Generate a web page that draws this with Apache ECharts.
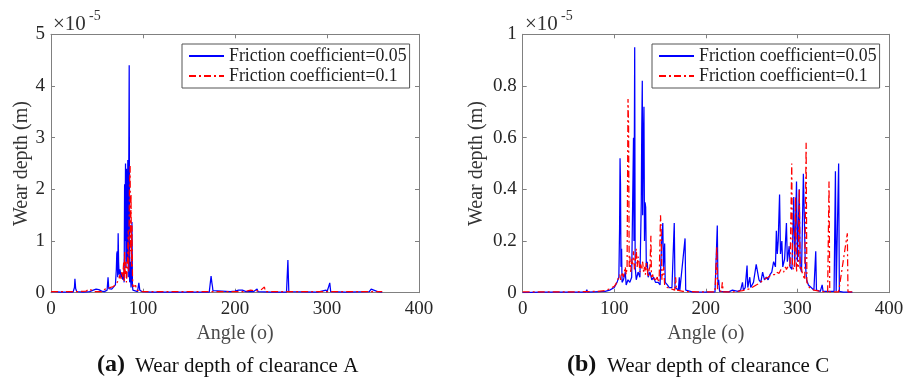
<!DOCTYPE html>
<html>
<head>
<meta charset="utf-8">
<script src="https://cdn.jsdelivr.net/npm/echarts@6/dist/echarts.min.js"></script>
<style>
html,body{margin:0;padding:0;background:#fff;}
#chart{width:918px;height:381px;}
</style>
</head>
<body>
<div id="chart"></div>
<script>
// Wear depth values are in units of 1e-5 m (axis shows ×10^-5)
const seriesNames = ['Friction coefficient=0.05', 'Friction coefficient=0.1'];
const xTicksLabel = [0, 100, 200, 300, 400];

// ---- Panel (a): clearance A ----
const angleA05 = [0,5,10,20,24,25.5,26,26.8,28,35,42,46,49,52,55,58,61,62,62.8,64,66,68,70,71,71.5,72,72.5,73,73.5,74,75,76,77,78,79,79.5,80,80.5,81,81.5,82,82.6,83,83.5,84,85,85.5,86,87,88,88.5,89,91,94,95.5,96.5,98,99,100,110,140,172,174,174.8,175.5,176,178,195,200,204,206,208,212,220,224,225,240,256,257.5,258.5,290,299,300,303,304,320,346,348,350,355,360];
const wearA05  = [0.02,0.02,0.01,0.01,0.01,0.1,0.27,0.08,0.02,0.01,0.02,0.05,0.07,0.06,0.03,0.02,0.05,0.3,0.08,0.05,0.07,0.1,0.15,0.45,0.75,0.8,0.3,1.15,0.6,0.35,0.45,0.3,0.38,0.25,0.4,0.2,2.1,1.0,2.5,0.5,2.4,0.6,1.5,2.57,0.3,4.4,0.2,0.6,0.1,1.37,0.15,0.05,0.03,0.02,0.19,0.05,0.06,0.02,0.01,0.01,0.01,0.01,0.32,0.2,0.12,0.04,0.01,0.02,0.03,0.05,0.03,0.05,0.02,0.02,0.07,0.02,0.01,0.01,0.63,0.02,0.01,0.05,0.01,0.19,0.02,0.01,0.02,0.07,0.04,0.02,0.01];

const angleA10 = [0,10,20,30,38,41,44,47,55,58,61,64,66,68,70,72,74,75,76,77,78,79,79.5,80,80.6,81.5,82,83,84,84.5,85.3,86,86.5,87,87.5,88,88.6,89,90,91,92,93,95,100,150,200,210,217,219,222,228,230,232,233,240,300,310,360];
const wearA10  = [0.02,0.02,0.02,0.02,0.03,0.07,0.05,0.02,0.02,0.06,0.09,0.1,0.12,0.12,0.15,0.2,0.28,0.35,0.25,0.4,0.3,0.6,0.2,0.8,0.35,0.6,0.2,0.5,1.2,0.4,2.1,2.45,0.8,1.9,0.5,1.3,0.3,0.12,0.15,0.1,0.14,0.05,0.02,0.02,0.02,0.02,0.02,0.05,0.02,0.03,0.05,0.02,0.11,0.02,0.02,0.02,0.02,0.02];

// ---- Panel (b): clearance C ----
const angleC05 = [0,20,50,69,70,71,90,95,100,103,105,105.8,106.3,106.8,107.3,108,108.5,110,112,113,115,117,119,121,121.5,122.3,122.8,124,126,128,129.5,130,130.6,131,131.6,132.4,133,133.6,134.3,135,136,137,139,141,143,145,148,150,152,153,153.6,155,155.6,158,160,163,165.5,166.3,170,171,171.6,177.3,178,185,200,210,212.5,213.2,214,215,225,229,230,235,238,240,241,243,245,245.8,248,249,252,255,257,258,260,262,264,266,268,270,272,274,276,277,278,279,280.5,281.5,283,284,286,288,289,291,292,294,296,297,299,300,302,303,304.5,306.5,307.5,308.5,310,312,315,318,320,320.8,325,327,328,340,341.5,342.3,345,345.8,350,360];
const wearC05  = [0,0.002,0.002,0.002,0.012,0.002,0.005,0.01,0.02,0.04,0.06,0.25,0.52,0.42,0.1,0.17,0.04,0.05,0.08,0.03,0.05,0.04,0.06,0.6,0.2,0.95,0.1,0.05,0.08,0.06,0.35,0.63,0.82,0.3,0.55,0.72,0.2,0.35,0.33,0.1,0.12,0.06,0.08,0.05,0.06,0.04,0.04,0.03,0.22,0.27,0.1,0.19,0.04,0.03,0.02,0.02,0.27,0.02,0.01,0.06,0.01,0.21,0.01,0.003,0.002,0.003,0.26,0.03,0.05,0.005,0.003,0.01,0.003,0.005,0.01,0.04,0.01,0.02,0.105,0.02,0.06,0.02,0.04,0.11,0.11,0.05,0.04,0.08,0.05,0.06,0.05,0.07,0.08,0.12,0.1,0.24,0.15,0.2,0.38,0.15,0.2,0.1,0.13,0.27,0.12,0.18,0.1,0.09,0.37,0.1,0.43,0.12,0.4,0.1,0.08,0.46,0.3,0.12,0.05,0.03,0.02,0.01,0.16,0.01,0.005,0.03,0.005,0.005,0.47,0.005,0.5,0.005,0.002,0.002];

const angleC10 = [0,50,80,90,95,100,102,104,106,107,109,110,112,113,114,115,115.6,116.3,117,118,119,120,121,122,123,124,125,126,127,128,129,130,131,132,133,134,135,136,137,138,139,140,140.6,142,143,144,145,147,148,149,150.5,151.3,152,154,155,158,162,166,167,168,175,190,210,212,212.8,217,218,219,230,240,248,255,258,260,263,265,268,270,272,275,277,280,282,285,287,288,290,291,292,293.8,294.6,296,297,298,299,300,301,302,303,304,305,306,307,308,309,309.5,310.3,312,313,318,325,333,334.5,335.3,345,354.5,355.2,360];
const wearC10  = [0.003,0.003,0.005,0.008,0.015,0.025,0.035,0.04,0.07,0.05,0.08,0.06,0.1,0.07,0.1,0.75,0.65,0.1,0.14,0.08,0.13,0.11,0.16,0.09,0.12,0.17,0.1,0.14,0.12,0.08,0.11,0.09,0.12,0.08,0.1,0.07,0.12,0.09,0.06,0.09,0.1,0.22,0.06,0.07,0.05,0.06,0.05,0.06,0.04,0.05,0.3,0.23,0.05,0.1,0.03,0.02,0.015,0.01,0.06,0.01,0.005,0.003,0.003,0.18,0.01,0.005,0.04,0.003,0.003,0.008,0.015,0.03,0.035,0.04,0.05,0.05,0.06,0.06,0.07,0.07,0.08,0.075,0.09,0.08,0.1,0.09,0.085,0.11,0.1,0.5,0.1,0.09,0.12,0.37,0.08,0.11,0.1,0.4,0.09,0.1,0.08,0.07,0.06,0.05,0.05,0.58,0.04,0.03,0.02,0.01,0.005,0.003,0.43,0.003,0.003,0.23,0.003,0.003];

const zip = (xs, ys) => xs.map((x, i) => [x, ys[i]]);

const FONT = '"Liberation Serif", "Times New Roman", serif';
const FRAME = '#808080';
const TICKCOL = '#262626';

function bottomX(grid) {
  return {
    type: 'value', gridIndex: grid, min: 0, max: 400, interval: 100, position: 'bottom',
    axisLine: { show: true, onZero: false, lineStyle: { color: FRAME, width: 1 } },
    axisTick: { show: true, inside: true, length: 4, lineStyle: { color: FRAME } },
    axisLabel: { show: true, fontSize: 19, fontFamily: FONT, color: TICKCOL, margin: 7 },
    splitLine: { show: false },
    name: 'Angle (o)', nameLocation: 'middle', nameGap: 29,
    nameTextStyle: { fontSize: 20, fontFamily: FONT, color: '#4a4a4a' }
  };
}
function topX(grid) {
  return {
    type: 'value', gridIndex: grid, min: 0, max: 400, interval: 100, position: 'top',
    axisLine: { show: true, onZero: false, lineStyle: { color: FRAME, width: 1 } },
    axisTick: { show: true, inside: true, length: 4, lineStyle: { color: FRAME } },
    axisLabel: { show: false }, splitLine: { show: false }
  };
}
function leftY(grid, max, interval, gap) {
  return {
    type: 'value', gridIndex: grid, min: 0, max: max, interval: interval, position: 'left',
    axisLine: { show: true, onZero: false, lineStyle: { color: FRAME, width: 1 } },
    axisTick: { show: true, inside: true, length: 4, lineStyle: { color: FRAME } },
    axisLabel: { show: true, fontSize: 19, fontFamily: FONT, color: TICKCOL, margin: 6 },
    splitLine: { show: false },
    name: 'Wear depth (m)', nameLocation: 'middle', nameGap: gap,
    nameTextStyle: { fontSize: 20, fontFamily: FONT, color: '#333' }
  };
}
function rightY(grid, max, interval) {
  return {
    type: 'value', gridIndex: grid, min: 0, max: max, interval: interval, position: 'right',
    axisLine: { show: true, onZero: false, lineStyle: { color: FRAME, width: 1 } },
    axisTick: { show: true, inside: true, length: 4, lineStyle: { color: FRAME } },
    axisLabel: { show: false }, splitLine: { show: false }
  };
}
function legendAt(left) {
  return {
    orient: 'vertical', left: left, top: 44,
    data: seriesNames,
    itemWidth: 35, itemHeight: 14, itemGap: 2,
    padding: [3, 3, 3, 6],
    borderColor: '#555', borderWidth: 1, backgroundColor: '#fff',
    itemStyle: { opacity: 0 },
    textStyle: { fontSize: 17.8, fontFamily: FONT, color: '#222' },
    selectedMode: false
  };
}
function lineSeries(name, xi, yi, data, color, dashed) {
  return {
    name: name, type: 'line', xAxisIndex: xi, yAxisIndex: yi,
    data: data, showSymbol: false, symbol: 'none', animation: false,
    lineStyle: { color: color, width: 1.25, type: dashed ? [7, 3, 2, 3] : 'solid' },
    itemStyle: { color: color }
  };
}

const chart = echarts.init(document.getElementById('chart'));
chart.setOption({
  backgroundColor: '#fff',
  animation: false,
  grid: [
    { left: 51, top: 34.3, width: 368, height: 258.4, show: false },
    { left: 522.7, top: 34.3, width: 366.3, height: 258.4, show: false }
  ],
  xAxis: [bottomX(0), topX(0), bottomX(1), topX(1)],
  yAxis: [leftY(0, 5, 1, 18), rightY(0, 5, 1), leftY(1, 1, 0.2, 36), rightY(1, 1, 0.2)],
  legend: [legendAt(182), legendAt(652)],
  series: [
    lineSeries(seriesNames[0], 0, 0, zip(angleA05, wearA05), '#0000ff', false),
    lineSeries(seriesNames[1], 0, 0, zip(angleA10, wearA10), '#ff0000', true),
    lineSeries(seriesNames[0], 2, 2, zip(angleC05, wearC05), '#0000ff', false),
    lineSeries(seriesNames[1], 2, 2, zip(angleC10, wearC10), '#ff0000', true)
  ],
  graphic: [
    { type: 'text', left: 53, top: 14, style: { text: '×10', fontSize: 21, fontFamily: FONT, fill: '#333' } },
    { type: 'text', left: 89, top: 9, style: { text: '-5', fontSize: 14, fontFamily: FONT, fill: '#333' } },
    { type: 'text', left: 525, top: 14, style: { text: '×10', fontSize: 21, fontFamily: FONT, fill: '#333' } },
    { type: 'text', left: 561, top: 9, style: { text: '-5', fontSize: 14, fontFamily: FONT, fill: '#333' } },
    { type: 'text', left: 97, top: 353, style: { text: '(a)', fontSize: 24, fontWeight: 'bold', fontFamily: FONT, fill: '#111' } },
    { type: 'text', left: 135, top: 356, style: { text: 'Wear depth of clearance A', fontSize: 21, fontFamily: FONT, fill: '#111' } },
    { type: 'text', left: 567, top: 353, style: { text: '(b)', fontSize: 24, fontWeight: 'bold', fontFamily: FONT, fill: '#111' } },
    { type: 'text', left: 607, top: 356, style: { text: 'Wear depth of clearance C', fontSize: 21, fontFamily: FONT, fill: '#111' } }
  ]
});
</script>
</body>
</html>
